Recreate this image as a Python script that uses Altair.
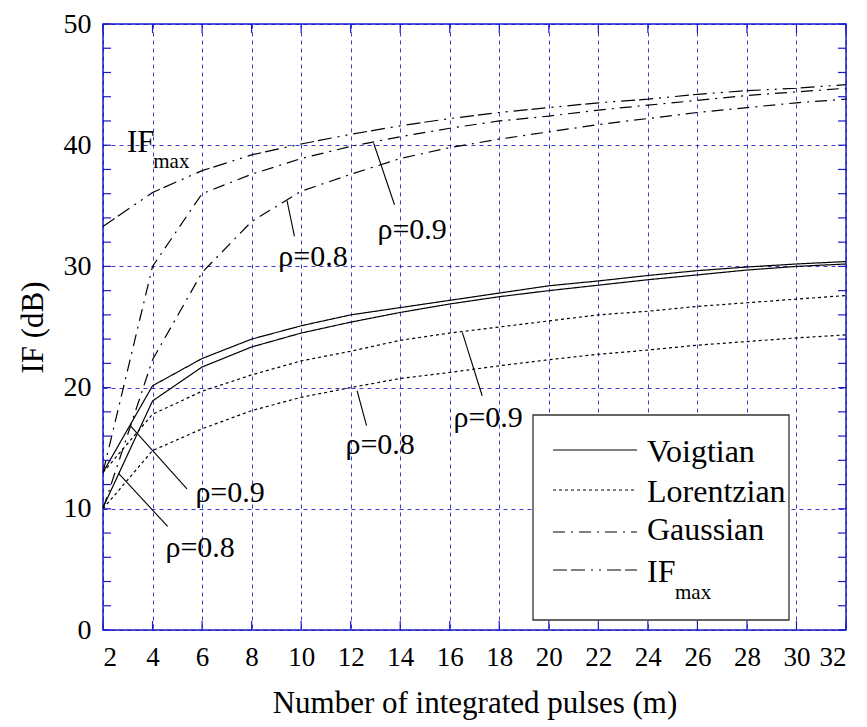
import altair as alt
import pandas as pd

# ---------------- data ----------------
m = [2, 4, 6, 8, 10, 12, 14, 16, 18, 20, 22, 24, 26, 28, 30, 32]
voigt_09 = [13.0, 20.15, 22.4, 24.0, 25.1, 26.0, 26.6, 27.2, 27.8, 28.4, 28.8, 29.25, 29.65, 29.95, 30.2, 30.4]
voigt_08 = [10.1, 18.9, 21.7, 23.35, 24.5, 25.4, 26.2, 26.9, 27.5, 28.0, 28.45, 28.9, 29.3, 29.7, 30.0, 30.2]
lor_09 = [13.0, 17.8, 19.7, 21.05, 22.2, 23.0, 23.9, 24.5, 25.0, 25.5, 26.0, 26.3, 26.7, 27.0, 27.3, 27.6]
lor_08 = [10.0, 14.8, 16.6, 18.1, 19.2, 20.0, 20.75, 21.25, 21.8, 22.3, 22.75, 23.1, 23.5, 23.8, 24.1, 24.35]
gau_09 = [13.0, 30.0, 36.0, 37.6, 38.9, 39.9, 40.7, 41.4, 42.0, 42.4, 42.9, 43.3, 43.7, 44.1, 44.4, 44.7]
gau_08 = [10.0, 22.3, 29.5, 33.7, 36.2, 37.6, 38.9, 39.8, 40.5, 41.1, 41.7, 42.2, 42.7, 43.1, 43.5, 43.8]
if_max = [33.3, 36.1, 37.9, 39.2, 40.1, 40.9, 41.6, 42.2, 42.7, 43.1, 43.5, 43.8, 44.2, 44.5, 44.7, 45.0]

series = [
    ("Voigtian 0.9", "Voigtian", voigt_09),
    ("Voigtian 0.8", "Voigtian", voigt_08),
    ("Lorentzian 0.9", "Lorentzian", lor_09),
    ("Lorentzian 0.8", "Lorentzian", lor_08),
    ("Gaussian 0.9", "Gaussian", gau_09),
    ("Gaussian 0.8", "Gaussian", gau_08),
    ("IFmax", "IFmax", if_max),
]

# annotation labels (data coords)
ann_text = ["ρ=0.8", "ρ=0.9", "ρ=0.9", "ρ=0.8", "ρ=0.9", "ρ=0.8"]
ann_tx = [9.08, 13.08, 16.15, 11.79, 5.73, 4.52]
ann_ty = [30.0, 32.26, 16.72, 14.56, 10.55, 6.0]
# pointer segments
ann_x1 = [9.43, 12.93, 16.51, 12.26, 3.10, 2.62]
ann_y1 = [35.42, 40.16, 24.53, 19.74, 16.86, 12.94]
ann_x2 = [9.73, 13.77, 17.31, 12.64, 5.39, 4.61]
ann_y2 = [32.48, 35.09, 19.33, 16.86, 11.65, 8.55]

x_ticks = list(range(2, 33, 2))
y_ticks = list(range(0, 51, 2))
y_grid = [0, 10, 20, 30, 40, 50]

# ---------------- styling ----------------
W, H = 743, 606
FONT = "Liberation Serif"
BLUE = "#1a1acc"
DASHES = {
    "Voigtian": [1, 0],
    "Lorentzian": [3, 3],
    "Gaussian": [12, 6, 2, 6],
    "IFmax": [14, 4, 14, 6, 2, 6, 2, 6],
}

rows = []
for name, style, vals in series:
    for xv, yv in zip(m, vals):
        rows.append({"m": xv, "IF": yv, "series": name, "style": style})
df = pd.DataFrame(rows)

xscale = alt.Scale(domain=[2, 32], nice=False, zero=False)
yscale = alt.Scale(domain=[0, 50], nice=False)

xaxis = alt.Axis(values=x_ticks, grid=True, gridColor=BLUE, gridDash=[4, 4], gridOpacity=0.85,
                 ticks=False, domain=False, labelFont=FONT, labelFontSize=27, labelColor="black",
                 labelPadding=14, title="Number of integrated pulses (m)", titleFont=FONT,
                 titleFontSize=31, titleFontWeight="normal", titleColor="black", titlePadding=18)
yaxis = alt.Axis(values=y_grid, grid=True, gridColor=BLUE, gridDash=[4, 4], gridOpacity=0.85,
                 ticks=False, domain=False, labelFont=FONT, labelFontSize=28, labelColor="black",
                 labelPadding=12, title="IF (dB)", titleFont=FONT, titleFontSize=31,
                 titleFontWeight="normal", titleColor="black", titlePadding=14)

styles = list(DASHES.keys())
lines = alt.Chart(df).mark_line(color="black", strokeWidth=1.2).encode(
    x=alt.X("m:Q", scale=xscale, axis=xaxis),
    y=alt.Y("IF:Q", scale=yscale, axis=yaxis),
    detail="series:N",
    strokeDash=alt.StrokeDash("style:N", scale=alt.Scale(domain=styles, range=[DASHES[s] for s in styles]), legend=None),
)

ann_df = pd.DataFrame({"t": ann_text, "tx": ann_tx, "ty": ann_ty,
                       "x1": ann_x1, "y1": ann_y1, "x2": ann_x2, "y2": ann_y2})
pointers = alt.Chart(ann_df).mark_rule(color="black", strokeWidth=1.1).encode(
    x=alt.X("x1:Q", scale=xscale), y=alt.Y("y1:Q", scale=yscale), x2="x2:Q", y2="y2:Q")
labels = alt.Chart(ann_df).mark_text(font=FONT, fontSize=30, align="left", baseline="alphabetic",
                                     color="black").encode(
    x=alt.X("tx:Q", scale=xscale), y=alt.Y("ty:Q", scale=yscale), text="t:N")

ifmax_lab = pd.DataFrame({"t": ["IF", "max"], "tx": [2.97, 4.03], "ty": [39.47, 38.1], "fs": [31, 21]})
ifmax_text = alt.Chart(ifmax_lab).mark_text(font=FONT, align="left", baseline="alphabetic", color="black").encode(
    x=alt.X("tx:Q", scale=xscale), y=alt.Y("ty:Q", scale=yscale), text="t:N",
    size=alt.Size("fs:Q", scale=None, legend=None))

# inward ticks on all four sides
ty_df = pd.DataFrame({"v": y_ticks})
tx_df = pd.DataFrame({"v": x_ticks})
tick_l = alt.Chart(ty_df).mark_rule(color=BLUE, strokeWidth=1.2).encode(
    y=alt.Y("v:Q", scale=yscale), x=alt.value(0), x2=alt.value(8))
tick_r = alt.Chart(ty_df).mark_rule(color=BLUE, strokeWidth=1.2).encode(
    y=alt.Y("v:Q", scale=yscale), x=alt.value(W - 8), x2=alt.value(W))
tick_b = alt.Chart(tx_df).mark_rule(color=BLUE, strokeWidth=1.2).encode(
    x=alt.X("v:Q", scale=xscale), y=alt.value(H - 9), y2=alt.value(H))
tick_t = alt.Chart(tx_df).mark_rule(color=BLUE, strokeWidth=1.2).encode(
    x=alt.X("v:Q", scale=xscale), y=alt.value(0), y2=alt.value(9))

# legend box
one = pd.DataFrame({"a": [0]})
box = alt.Chart(one).mark_rect(fill="white", stroke="#333333", strokeWidth=1.3).encode(
    x=alt.value(430), x2=alt.value(686), y=alt.value(391), y2=alt.value(596))
leg_layers = [box]
leg_names = ["Voigtian", "Lorentzian", "Gaussian", "IF"]
leg_line_y = [426, 466, 508, 546]
leg_text_y = [438, 478, 516, 558]
for s, name, ly, tyy in zip(styles, leg_names, leg_line_y, leg_text_y):
    leg_layers.append(alt.Chart(one).mark_rule(color="black", strokeWidth=1.2, strokeDash=DASHES[s]).encode(
        x=alt.value(450), x2=alt.value(534), y=alt.value(ly)))
    leg_layers.append(alt.Chart(one).mark_text(font=FONT, fontSize=32, align="left", baseline="alphabetic",
                                               color="black", text=name).encode(
        x=alt.value(544), y=alt.value(tyy)))
leg_layers.append(alt.Chart(one).mark_text(font=FONT, fontSize=21, align="left", baseline="alphabetic",
                                           color="black", text="max").encode(
    x=alt.value(572), y=alt.value(575)))

chart = alt.layer(
    lines, pointers, labels, ifmax_text, *leg_layers, tick_l, tick_r, tick_b, tick_t
).properties(
    width=W, height=H,
    autosize=alt.AutoSizeParams(type="none"),
    padding={"left": 95, "top": 16, "right": 10, "bottom": 97},
).configure(background="white", font=FONT).configure_view(
    stroke=BLUE, strokeWidth=1.5
).configure_text(font=FONT)

chart.save("out.html", embed_options={"renderer": "svg", "actions": False})
